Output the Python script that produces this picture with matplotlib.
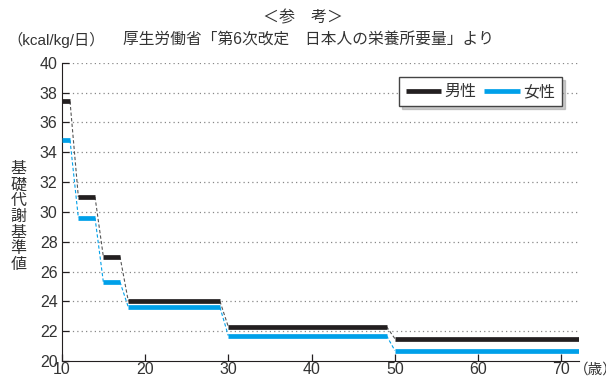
import matplotlib
matplotlib.use("Agg")
import matplotlib.pyplot as plt
from matplotlib.lines import Line2D

plt.rcParams['font.family'] = ['Liberation Sans', 'Noto Sans CJK JP', 'DejaVu Sans']

# age bands (start, end) and basal metabolic standard values (kcal/kg/day)
age_start = [10, 12, 15, 18, 30, 50]
age_end = [11, 14, 17, 29, 49, 72.1]
male = [37.4, 31.0, 27.0, 24.0, 22.3, 21.5]
female = [34.8, 29.6, 25.3, 23.6, 21.7, 20.7]
x_ticks = [10, 20, 30, 40, 50, 60, 70]
y_ticks = [20, 22, 24, 26, 28, 30, 32, 34, 36, 38, 40]

BLACK = "#231f20"
BLUE = "#00a0e9"
TXT = "#333333"

fig = plt.figure(figsize=(6.06, 3.79), dpi=100)
ax = fig.add_axes([0.1018, 0.0475, 0.8536, 0.7871])

for vals, col, dcol in [(male, BLACK, "#555555"), (female, BLUE, BLUE)]:
    for i in range(len(vals)):
        ax.plot([age_start[i], age_end[i]], [vals[i], vals[i]], color=col,
                lw=3.4, solid_capstyle="butt", zorder=3)
        if i + 1 < len(vals):
            ax.plot([age_end[i], age_start[i + 1]], [vals[i], vals[i + 1]],
                    color=dcol, lw=0.8, ls=(0, (3, 2)), zorder=2)

ax.set_xlim(10, 72.1)
ax.set_ylim(20, 40)
ax.set_xticks(x_ticks)
ax.set_yticks(y_ticks)
ax.tick_params(direction="in", length=5, width=0.9, color=BLACK,
               labelsize=11.5, labelcolor=TXT, pad=3)
ax.tick_params(axis="x", pad=1)
for t in y_ticks[1:]:
    ax.axhline(t, xmin=0.012, color="#888888", lw=0.9, ls=(0, (1, 2.5)), zorder=1)
ax.spines["top"].set_visible(False)
ax.spines["right"].set_visible(False)
ax.spines["left"].set_color(BLACK)
ax.spines["bottom"].set_color(BLACK)

handles = [Line2D([], [], color=BLACK, lw=3.4, solid_capstyle="butt"),
           Line2D([], [], color=BLUE, lw=3.4, solid_capstyle="butt")]
leg = ax.legend(handles, ["男性", "女性"], ncol=2, loc="upper right",
                bbox_to_anchor=(0.967, 0.952), fontsize=11.5, frameon=True,
                fancybox=False, shadow={"color": "#999999"}, handlelength=2.2,
                handletextpad=0.2, columnspacing=0.5, borderpad=0.45,
                borderaxespad=0, labelcolor=TXT)
leg.get_frame().set_edgecolor("#444444")
leg.get_frame().set_linewidth(1.0)
leg.set_zorder(5)

fig.text(0.5, 0.953, "＜参　考＞", ha="center", va="center", fontsize=11.5, color=TXT)
fig.text(0.012, 0.895, "（kcal/kg/日）", ha="left", va="center", fontsize=11, color=TXT)
fig.text(0.203, 0.895, "厚生労働省「第6次改定　日本人の栄養所要量」より", ha="left",
         va="center", fontsize=11.3, color=TXT)
fig.text(0.031, 0.428, "\n".join("基礎代謝基準値"), ha="center", va="center",
         fontsize=11.5, color=TXT, linespacing=1.08)
fig.text(0.947, 0.024, "（歳）", ha="left", va="center", fontsize=10.5, color=TXT)

fig.savefig("out.png", dpi=100)
